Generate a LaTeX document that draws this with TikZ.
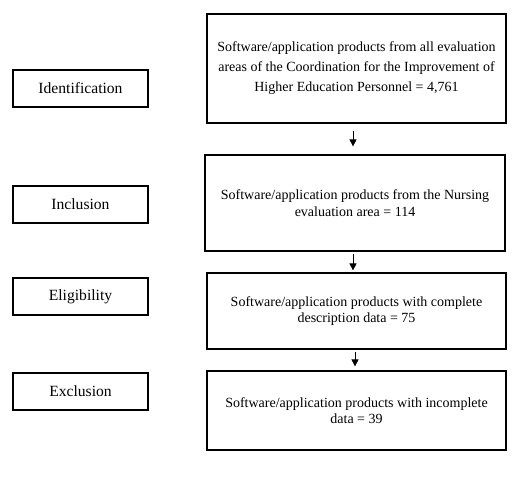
\documentclass[tikz,border=0pt]{standalone}
\usepackage{fontspec}
\setmainfont{Liberation Serif}
\usetikzlibrary{arrows.meta}
\begin{document}
\begin{tikzpicture}[x=1pt,y=-1pt,
  mainbox/.style={draw,line width=1.2pt,align=center,inner sep=0pt,minimum width=299pt,font=\fontsize{14}{16.3}\selectfont},
  labelbox/.style={draw,line width=1.2pt,align=center,inner sep=0pt,minimum width=135pt,minimum height=37pt,font=\fontsize{15.6}{20}\selectfont},
  flow/.style={line width=0.7pt,-{Triangle[width=7pt,length=7pt]}}]
\useasboundingbox (0,0) rectangle (518,493);
\node[mainbox,minimum height=109pt,font=\fontsize{14}{20}\selectfont] (b1) at (356.5,68.5) {Software/application products from all evaluation\\areas of the Coordination for the Improvement of\\Higher Education Personnel = 4,761};
\node[mainbox,minimum height=96pt,minimum width=300pt,text depth=0pt] (b2) at (355,203) {Software/application products from the Nursing\\evaluation area = 114};
\node[mainbox,minimum height=76pt] (b3) at (356.5,311) {Software/application products with complete\\description data = 75};
\node[mainbox,minimum height=79pt] (b4) at (356.5,410.5) {Software/application products with incomplete\\data = 39};
\node[labelbox] (l1) at (80.5,88.5) {Identification};
\node[labelbox] (l2) at (80.5,204.5) {Inclusion};
\node[labelbox] (l3) at (80.5,296.5) {Eligibility};
\node[labelbox] (l4) at (80.5,391.5) {Exclusion};
\draw[flow,shorten <=7pt,shorten >=8pt] (b1.south -| 353,0) -- (b2.north -| 353,0);
\draw[flow,shorten <=2pt,shorten >=2pt] (b2.south -| 353,0) -- (b3.north -| 353,0);
\draw[flow,shorten <=2pt,shorten >=4pt] (b3.south -| 355,0) -- (b4.north -| 355,0);
\end{tikzpicture}
\end{document}
